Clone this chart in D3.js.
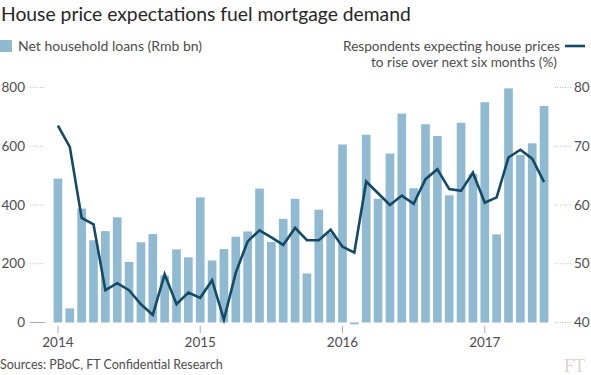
<!DOCTYPE html>
<html>
<head>
<meta charset="utf-8">
<script src="https://cdn.jsdelivr.net/npm/d3@7"></script>
<style>
  body { margin: 0; background: #fff; }
  #chart { width: 591px; height: 375px; }
  text { font-family: Lato, "Open Sans", sans-serif; }
</style>
</head>
<body>
<div id="chart"></div>
<script>
// months, Jan 2014 .. Jun 2017
const months = [
  "2014-01","2014-02","2014-03","2014-04","2014-05","2014-06","2014-07","2014-08","2014-09","2014-10","2014-11","2014-12",
  "2015-01","2015-02","2015-03","2015-04","2015-05","2015-06","2015-07","2015-08","2015-09","2015-10","2015-11","2015-12",
  "2016-01","2016-02","2016-03","2016-04","2016-05","2016-06","2016-07","2016-08","2016-09","2016-10","2016-11","2016-12",
  "2017-01","2017-02","2017-03","2017-04","2017-05","2017-06"
];
// net household loans (Rmb bn)
const loans = [
  490, 48, 388, 280, 311, 358, 206, 273, 301, 160, 249, 222,
  426, 211, 250, 292, 310, 456, 274, 353, 421, 167, 384, 305,
  606, -6, 639, 421, 575, 711, 457, 675, 635, 433, 680, 505,
  750, 300, 797, 570, 610, 737
];
// respondents expecting house prices to rise (%)
const expect = [
  73.5, 69.9, 57.8, 56.7, 45.5, 46.7, 45.5, 43.1, 41.3, 48.2, 43.1, 45.1,
  44.2, 47.2, 40.5, 48.5, 53.8, 55.7, 54.5, 53.2, 56.1, 54.0, 54.0, 55.8,
  52.9, 51.9, 64.0, 62.0, 60.0, 61.6, 60.2, 64.4, 66.1, 62.7, 62.4, 65.5,
  60.4, 61.3, 68.1, 69.4, 67.9, 63.9
];
const yearTicks = ["2014-01", "2015-01", "2016-01", "2017-01"];
const leftTicks = [0, 200, 400, 600, 800];
const rightTicks = [40, 50, 60, 70, 80];

const W = 591, H = 375;
const barColor = "#8fbad2", lineColor = "#154a66", textColor = "#4d4d4d";

const svg = d3.select("#chart")
  .append("svg")
  .attr("width", W)
  .attr("height", H);

const x = d3.scaleBand()
  .domain(months)
  .range([52, 550])
  .paddingInner(0.27)
  .paddingOuter(0.135);

const yL = d3.scaleLinear().domain([0, 800]).range([322.5, 87.5]);
const yR = d3.scaleLinear().domain([40, 80]).range([322.5, 87.5]);

// title
svg.append("text")
  .attr("x", 1).attr("y", 21)
  .style("font-size", "19.3px")
  .style("fill", "#262626")
  .text("House price expectations fuel mortgage demand");

// legends
svg.append("rect")
  .attr("x", 0).attr("y", 40).attr("width", 12).attr("height", 12)
  .style("fill", barColor);
svg.append("text")
  .attr("x", 18).attr("y", 51)
  .style("font-size", "14px").style("fill", textColor)
  .text("Net household loans (Rmb bn)");

svg.append("line")
  .attr("x1", 565).attr("x2", 585).attr("y1", 46).attr("y2", 46)
  .style("stroke", lineColor).style("stroke-width", 2.6);
const lg = svg.append("text")
  .attr("text-anchor", "end")
  .style("font-size", "13.6px").style("fill", textColor);
lg.append("tspan").attr("x", 560).attr("y", 51).text("Respondents expecting house prices");
lg.append("tspan").attr("x", 557).attr("y", 67).text("to rise over next six months (%)");

// left axis (short dotted ticks)
const lt = svg.append("g").selectAll("g").data(leftTicks).join("g")
  .attr("transform", d => `translate(0,${yL(d)})`);
lt.append("line")
  .attr("x1", 30).attr("x2", 45)
  .style("stroke", d => d === 0 ? "#aaa" : "#bbb")
  .style("stroke-width", 1)
  .style("stroke-dasharray", d => d === 0 ? null : "1,1.5");
lt.append("text")
  .attr("x", 25).attr("dy", "0.35em")
  .attr("text-anchor", "end")
  .style("font-size", "13.5px").style("fill", textColor)
  .text(d => d);

// right axis
const rt = svg.append("g").selectAll("g").data(rightTicks).join("g")
  .attr("transform", d => `translate(0,${yR(d)})`);
rt.append("line")
  .attr("x1", 555).attr("x2", 571)
  .style("stroke", "#bbb")
  .style("stroke-dasharray", "1,1.5");
rt.append("text")
  .attr("x", 574).attr("dy", "0.35em")
  .style("font-size", "13.5px").style("fill", textColor)
  .text(d => d);

// bars
svg.append("g").selectAll("rect").data(loans).join("rect")
  .attr("x", (d, i) => x(months[i]))
  .attr("width", x.bandwidth())
  .attr("y", d => yL(Math.max(0, d)))
  .attr("height", d => Math.abs(yL(d) - yL(0)))
  .style("fill", barColor);

// x axis ticks
const xt = svg.append("g").selectAll("g").data(yearTicks).join("g")
  .attr("transform", d => `translate(${x(d) + x.bandwidth() / 2},0)`);
xt.append("line")
  .attr("y1", 326).attr("y2", 333)
  .style("stroke", "#aaa");
xt.append("text")
  .attr("y", 347).attr("text-anchor", "middle")
  .style("font-size", "13.5px").style("fill", textColor)
  .text(d => d.slice(0, 4));

// line
const line = d3.line()
  .x((d, i) => x(months[i]) + x.bandwidth() / 2)
  .y(d => yR(d));
svg.append("path")
  .datum(expect)
  .attr("d", line)
  .style("fill", "none")
  .style("stroke", lineColor)
  .style("stroke-width", 2.6)
  .style("stroke-linejoin", "miter");

// source + logo
svg.append("text")
  .attr("x", 0).attr("y", 369)
  .style("font-size", "12.5px").style("fill", textColor)
  .text("Sources: PBoC, FT Confidential Research");
svg.append("text")
  .attr("x", 585).attr("y", 372).attr("text-anchor", "end")
  .style("font-family", "'Liberation Serif', serif")
  .style("font-size", "18px").style("fill", "#ddd3c7")
  .text("FT");
</script>
</body>
</html>
